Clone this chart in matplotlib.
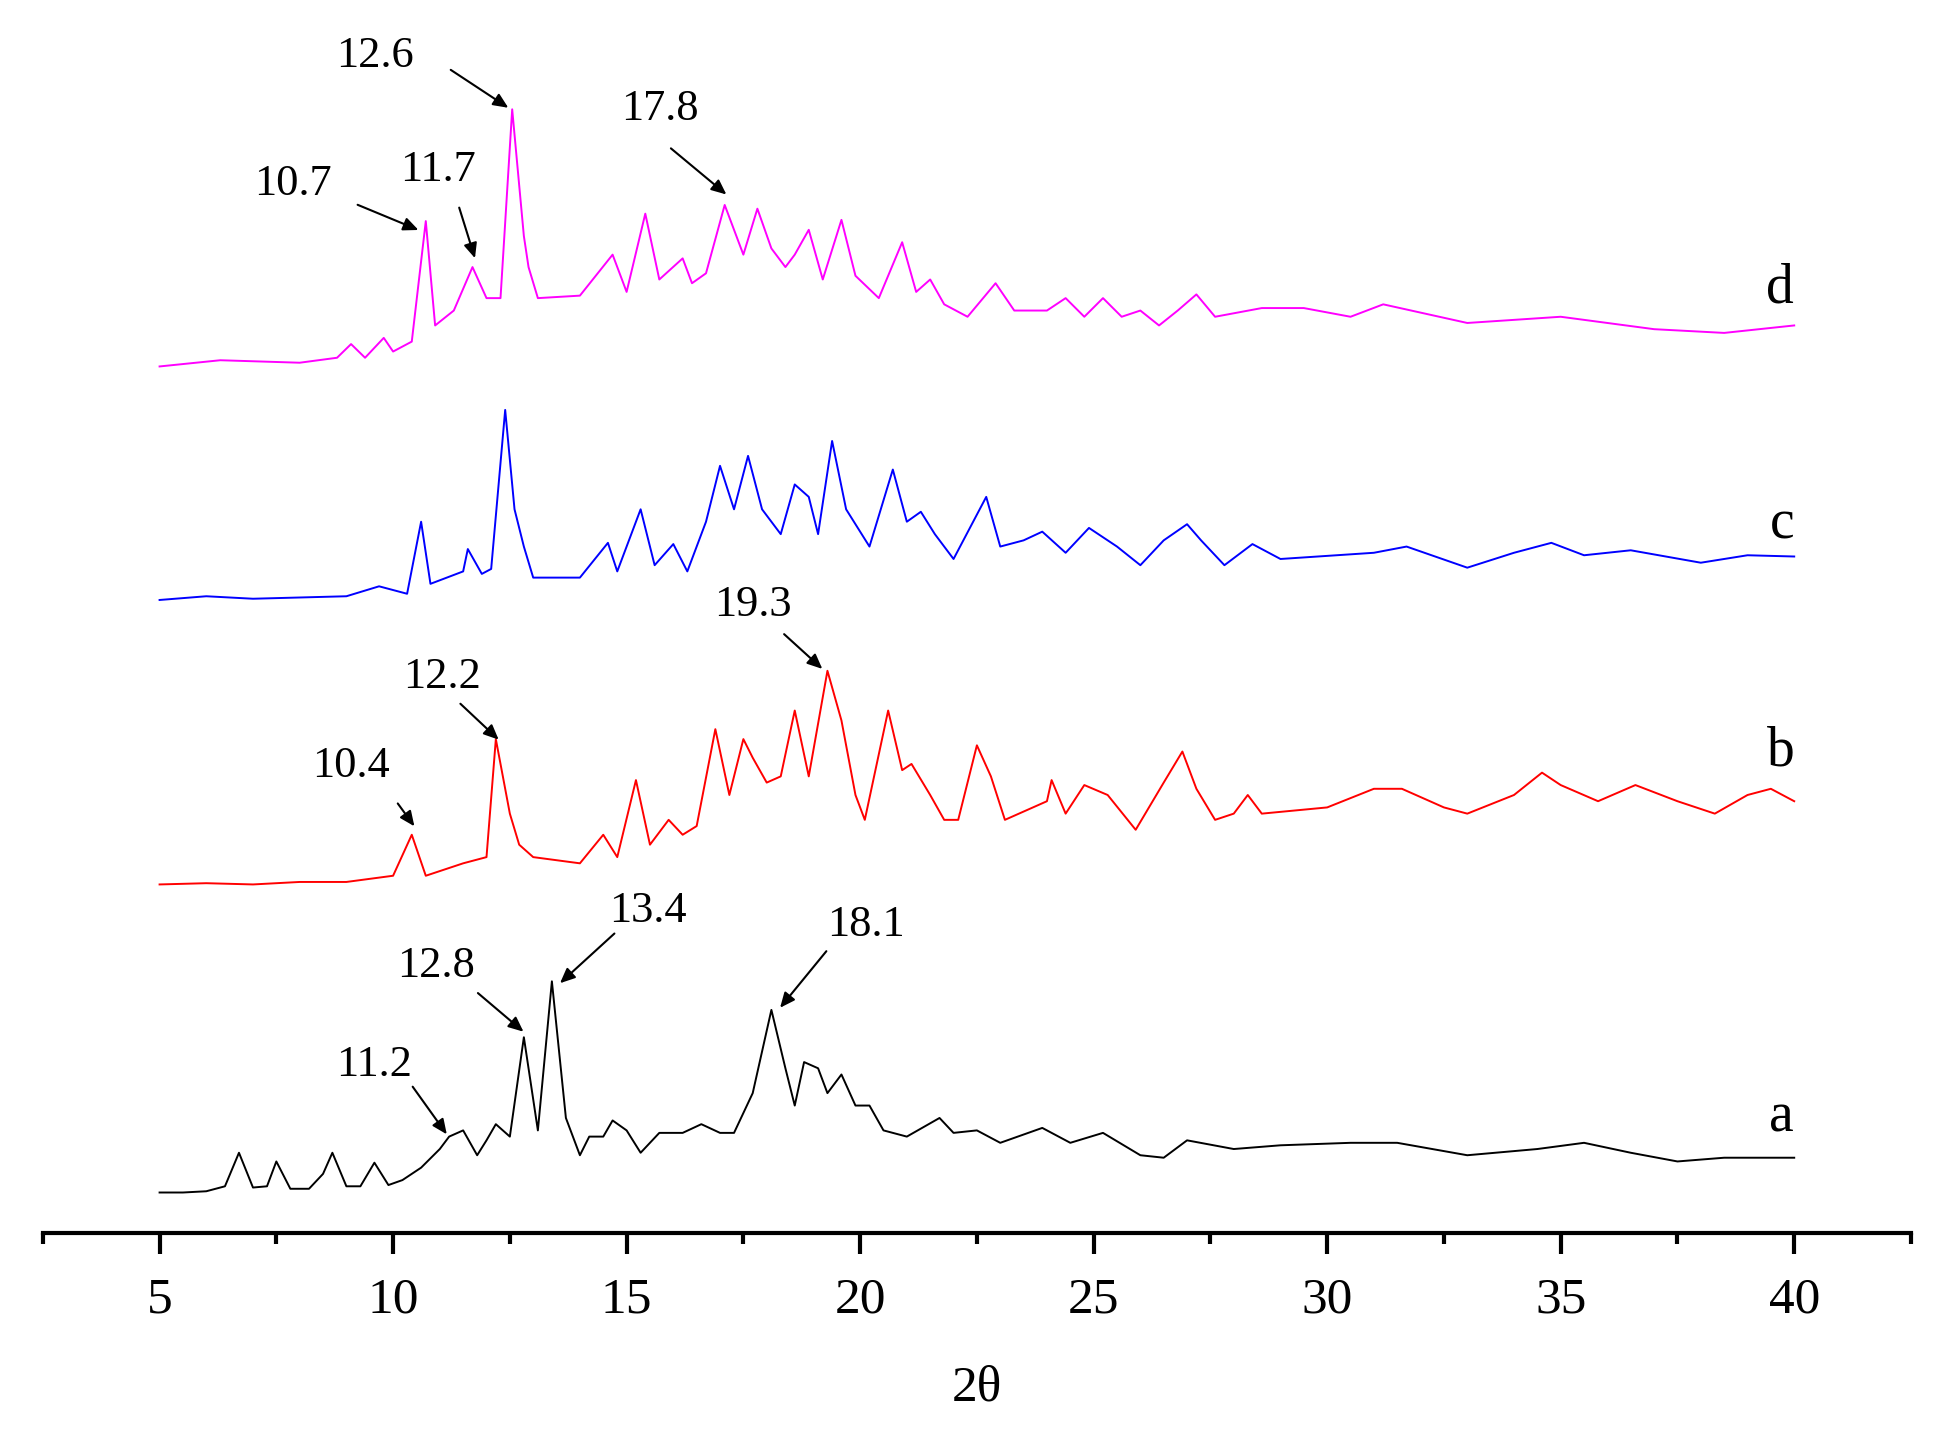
import matplotlib
matplotlib.use("Agg")
import matplotlib.pyplot as plt
from matplotlib.ticker import MultipleLocator

# curve data: 2theta and intensity (arbitrary units)
xa = [5,5.5,6,6.4,6.7,7.0,7.3,7.5,7.8,8.2,8.5,8.7,9.0,9.3,9.6,9.9,10.2,10.6,11.0,11.2,11.5,11.8,12.0,12.2,12.5,12.8,13.1,13.4,13.7,14.0,14.2,14.5,14.7,15.0,15.3,15.7,16.2,16.6,17.0,17.3,17.7,18.1,18.4,18.6,18.8,19.1,19.3,19.6,19.9,20.2,20.5,21.0,21.7,22.0,22.5,23.0,23.9,24.5,25.2,26.0,26.5,27.0,28.0,29.0,30.5,31.5,33.0,34.5,35.5,36.5,37.5,38.5,40]
ya = [960,960,959,955,928,956,955,935,957,957,945,928,955,955,936,954,950,940,925,915,910,930,918,905,915,835,910,790,900,930,915,915,902,910,928,912,912,905,912,912,880,813,860,890,855,860,880,865,890,890,910,915,900,912,910,920,908,920,912,930,932,918,925,922,920,920,930,925,920,928,935,932,932]
xb = [5,6,7,8,9,10,10.4,10.7,11.5,12.0,12.2,12.5,12.7,13,14,14.5,14.8,15.2,15.5,15.9,16.2,16.5,16.9,17.2,17.5,17.7,18.0,18.3,18.6,18.9,19.3,19.6,19.9,20.1,20.6,20.9,21.1,21.5,21.8,22.1,22.5,22.8,23.1,24.0,24.1,24.4,24.8,25.3,25.9,26.5,26.9,27.2,27.6,28.0,28.3,28.6,30,31,31.6,32.5,33,34,34.6,35,35.8,36.6,37.5,38.3,39,39.5,40]
yb = [712,711,712,710,710,705,672,705,695,690,595,655,680,690,695,672,690,628,680,660,672,665,587,640,595,610,630,625,572,625,540,580,640,660,572,620,615,640,660,660,600,625,660,645,628,655,632,640,668,630,605,635,660,655,640,655,650,635,635,650,655,640,622,632,645,632,645,655,640,635,645]
xc = [5,6,7,8,9,9.7,10.3,10.6,10.8,11.5,11.6,11.9,12.1,12.4,12.6,12.8,13,14,14.6,14.8,15.3,15.6,16,16.3,16.7,17.0,17.3,17.6,17.9,18.3,18.6,18.9,19.1,19.4,19.7,20.2,20.7,21.0,21.3,21.6,22,22.7,23.0,23.5,23.9,24.4,24.9,25.5,26,26.5,27,27.3,27.8,28.4,29,31,31.7,33,34,34.8,35.5,36.5,38,39,40]
yc = [483,480,482,481,480,472,478,420,470,460,442,462,458,330,410,440,465,465,437,460,410,455,438,460,420,375,410,367,410,430,390,400,430,355,410,440,378,420,412,430,450,400,440,435,428,445,425,440,455,435,422,435,455,438,450,445,440,457,445,437,447,443,453,447,448]
xd = [5,6.3,8,8.8,9.1,9.4,9.8,10.0,10.4,10.7,10.9,11.3,11.7,12.0,12.3,12.55,12.8,12.9,13.1,14,14.7,15.0,15.4,15.7,16.2,16.4,16.7,17.1,17.3,17.5,17.8,18.1,18.4,18.6,18.9,19.2,19.6,19.9,20.4,20.9,21.2,21.5,21.8,22.3,22.9,23.3,24,24.4,24.8,25.2,25.6,26,26.4,26.8,27.2,27.6,28.6,29.5,30.5,31.2,33,35,37,38.5,40]
yd = [295,290,292,288,277,288,272,283,275,178,262,250,215,240,240,88,190,215,240,238,205,235,172,225,208,228,220,165,185,205,168,200,215,205,185,225,177,222,240,195,235,225,245,255,228,250,250,240,255,240,255,250,262,250,237,255,248,248,255,245,260,255,265,268,262]

series = [(xa, ya, "black", "a", 900), (xb, yb, "red", "b", 605),
          (xc, yc, "blue", "c", 422), (xd, yd, "magenta", "d", 232)]

def px2x(p):
    return 5 + (p - 128) / 37.514

ann_text = ["12.6", "10.7", "11.7", "17.8", "12.2", "10.4", "19.3", "11.2", "12.8", "13.4", "18.1"]
ann_txy = [(301,45),(235,148),(352,137),(530,88),(355,545),(282,617),(605,487),(300,857),(350,778),(520,733),(695,745)]
ann_start = [(360,55),(285,164),(368,165),(537,118),(368,565),(318,645),(628,509),(330,873),(382,798),(495,750),(665,764)]
ann_tip = [(410,88),(338,186),(382,210),(585,158),(402,597),(334,667),(662,540),(360,915),(422,832),(448,793),(625,813)]

plt.rcParams['font.family'] = ['Liberation Serif', 'DejaVu Serif']
fig = plt.figure(figsize=(19.46, 14.41), dpi=100)
ax = fig.add_axes([0.022, 0.144, 0.96, 0.856])
ax.set_xlim(2.5, 42.5)
ax.set_ylim(-993, 0)

for x, y, c, lab, ly in series:
    ax.plot(x, [-v for v in y], color=c, lw=1.4)
    ax.text(40, -ly, lab, fontsize=40, ha='right', va='center')

for t, tp, sp, tip in zip(ann_text, ann_txy, ann_start, ann_tip):
    ax.text(px2x(tp[0]), -tp[1], t, fontsize=32, ha='center', va='center')
    ax.annotate("", xy=(px2x(tip[0]), -tip[1]), xytext=(px2x(sp[0]), -sp[1]),
                arrowprops=dict(arrowstyle="-|>,head_length=0.9,head_width=0.4", color='black', lw=1.5))

for s in ['top', 'left', 'right']:
    ax.spines[s].set_visible(False)
ax.spines['bottom'].set_linewidth(3)
ax.set_yticks([])
ax.xaxis.set_major_locator(MultipleLocator(5))
ax.xaxis.set_minor_locator(MultipleLocator(2.5))
ax.tick_params(axis='x', which='major', length=15, width=3, labelsize=37, pad=16)
ax.tick_params(axis='x', which='minor', length=8, width=3)
ax.set_xlabel("2θ", fontsize=37, labelpad=30)
fig.savefig("out.png", dpi=100)
